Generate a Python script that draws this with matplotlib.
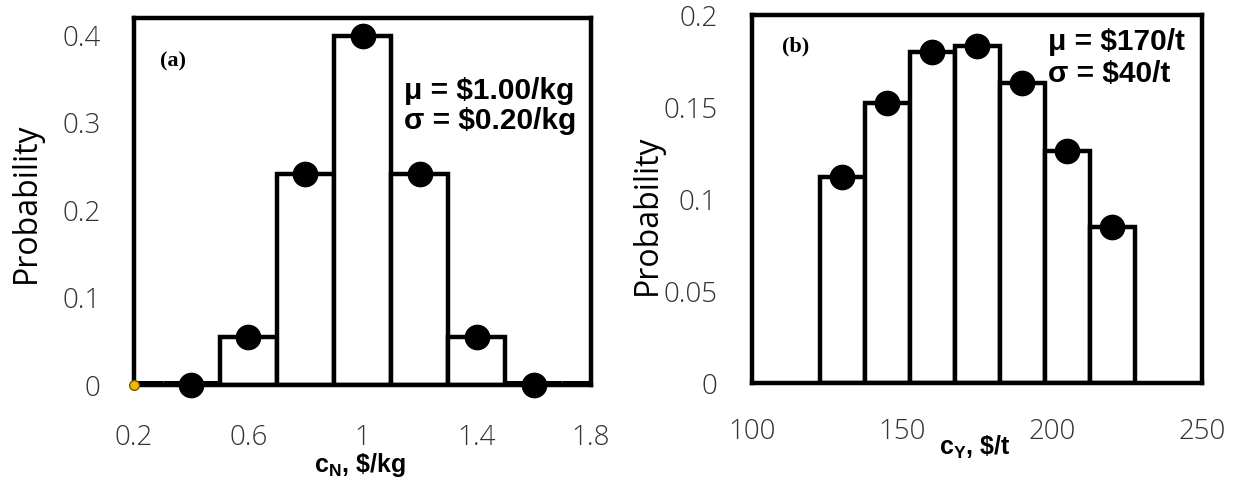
import matplotlib
matplotlib.use("Agg")
import matplotlib.pyplot as plt

# ---------------- data ----------------
# panel (a): c_N, $/kg
a_bin_centers = [0.2, 0.4, 0.6, 0.8, 1.0, 1.2, 1.4, 1.6, 1.8]
a_probs = [0.0, 0.0, 0.055, 0.242, 0.399, 0.242, 0.055, 0.0, 0.0]
a_point_x = [0.4, 0.6, 0.8, 1.0, 1.2, 1.4, 1.6]
a_point_y = [0.0, 0.055, 0.242, 0.399, 0.242, 0.055, 0.0]
a_extra_x = [0.2]
a_extra_y = [0.0]
a_xticks = [0.2, 0.6, 1.0, 1.4, 1.8]
a_xticklabels = ["0.2", "0.6", "1", "1.4", "1.8"]
a_yticks = [0, 0.1, 0.2, 0.3, 0.4]
a_yticklabels = ["0", "0.1", "0.2", "0.3", "0.4"]

# panel (b): c_Y, $/t
b_bin_centers = [130, 145, 160, 175, 190, 205, 220]
b_probs = [0.112, 0.152, 0.180, 0.183, 0.163, 0.126, 0.085]
b_xticks = [100, 150, 200, 250]
b_xticklabels = ["100", "150", "200", "250"]
b_yticks = [0, 0.05, 0.1, 0.15, 0.2]
b_yticklabels = ["0", "0.05", "0.1", "0.15", "0.2"]

a_width = 0.2
b_width = 15

plt.rcParams['mathtext.fontset'] = 'custom'
plt.rcParams['mathtext.rm'] = 'Liberation Sans:bold'
plt.rcParams['mathtext.bf'] = 'Liberation Sans:bold'
plt.rcParams['mathtext.it'] = 'Liberation Sans:bold'

W, H = 1240, 482
fig = plt.figure(figsize=(W / 100, H / 100), dpi=100)

def px_axes(l, t, r, b):
    return fig.add_axes([l / W, 1 - b / H, (r - l) / W, (b - t) / H])

axA = px_axes(134, 18, 591, 385)
axB = px_axes(752, 15, 1202, 383)

tick_font = dict(family='Open Sans', weight='light', size=20, color='#333333')
LW = 3.2

def style(ax, xticks, xtl, yticks, ytl, xpad, ypad):
    for s in ax.spines.values():
        s.set_linewidth(LW)
        s.set_color('black')
    ax.set_xticks(xticks)
    ax.set_xticklabels(xtl, fontdict=tick_font)
    ax.set_yticks(yticks)
    ax.set_yticklabels(ytl, fontdict=tick_font)
    ax.tick_params(axis='x', length=0, pad=xpad)
    ax.tick_params(axis='y', length=0, pad=ypad)

# ---- panel (a)
lwA = [6.5 if p == 0 else LW for p in a_probs]
axA.bar(a_bin_centers, a_probs, width=a_width, color='white', edgecolor='black',
        linewidth=lwA, zorder=2, clip_on=True)
axA.plot(a_point_x, a_point_y, 'o', color='black', markersize=17.5, zorder=4, clip_on=False)
axA.plot(a_extra_x, a_extra_y, 'o', color='#F5B800', markeredgecolor='#7a5a00',
         markersize=7, zorder=5, clip_on=False)
axA.set_xlim(0.2, 1.8)
axA.set_ylim(0, 0.42)
style(axA, a_xticks, a_xticklabels, a_yticks, a_yticklabels, 28, 24)

# ---- panel (b)
axB.bar(b_bin_centers, b_probs, width=b_width, color='white', edgecolor='black',
        linewidth=LW, zorder=2)
axB.plot(b_bin_centers, b_probs, 'o', color='black', markersize=17.5, zorder=4)
axB.set_xlim(100, 250)
axB.set_ylim(0, 0.2)
style(axB, b_xticks, b_xticklabels, b_yticks, b_yticklabels, 25, 25)

# ---- texts (pixel placement)
def ftext(x, y, s, **kw):
    fig.text(x / W, 1 - y / H, s, **kw)

ftext(26, 203, "Probability", rotation=90, ha='center', va='center',
      family='Open Sans', size=23, color='black')
ftext(647, 215, "Probability", rotation=90, ha='center', va='center',
      family='Open Sans', size=23, color='black')

ftext(360, 465, r"c$_\mathregular{N}$, \$/kg", ha='center', va='center',
      family='Liberation Sans', weight='bold', size=18)
ftext(975, 447, r"c$_\mathregular{Y}$, \$/t", ha='center', va='center',
      family='Liberation Sans', weight='bold', size=18)

ftext(173, 61, "(a)", ha='center', va='center', family='Liberation Serif',
      weight='bold', size=16)
ftext(796, 46, "(b)", ha='center', va='center', family='Liberation Serif',
      weight='bold', size=16)

ann = dict(ha='left', va='center', family='Liberation Sans', weight='bold', size=21.5)
ftext(404, 91, "μ = $1.00/kg", **ann)
ftext(404, 121, "σ = $0.20/kg", **ann)
ftext(1048, 42, "μ = $170/t", **ann)
ftext(1048, 74, "σ = $40/t", **ann)

fig.savefig("out.png", dpi=100)
